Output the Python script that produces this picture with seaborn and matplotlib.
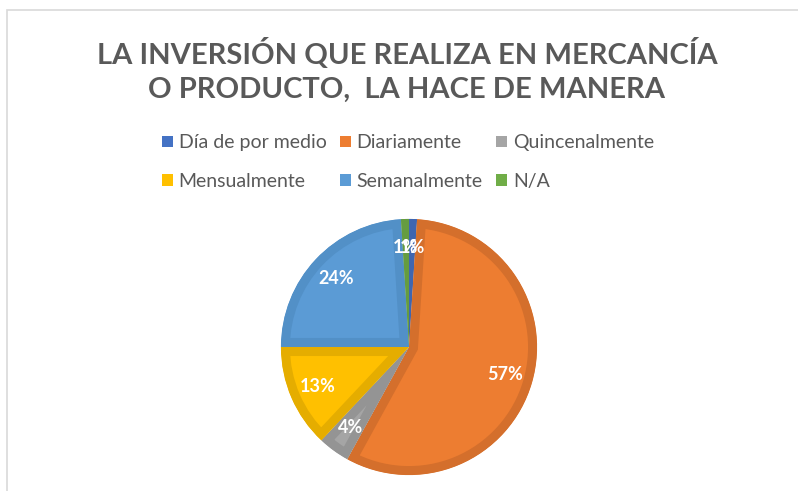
import matplotlib
matplotlib.use("Agg")
import matplotlib.pyplot as plt
from matplotlib.patches import Rectangle
import seaborn as sns

# datos
categorias = ["Día de por medio", "Diariamente", "Quincenalmente",
              "Mensualmente", "Semanalmente", "N/A"]
porcentajes = [1, 57, 4, 13, 24, 1]
colores = ["#4472C4", "#ED7D31", "#A5A5A5", "#FFC000", "#5B9BD5", "#70AD47"]
bordes = ["#3F66B0", "#D46F2C", "#949494", "#E5AD00", "#5290C7", "#659C40"]
titulo = "LA INVERSIÓN QUE REALIZA EN MERCANCÍA\nO PRODUCTO,  LA HACE DE MANERA"

sns.set_theme(style="white")
plt.rcParams["font.family"] = ["Lato", "DejaVu Sans"]

fig = plt.figure(figsize=(7.98, 4.91), dpi=100)

# marco gris del gráfico
fig.patches.append(Rectangle((7 / 798, -0.1), 1.2, 1 - 10 / 491 + 0.1,
                             transform=fig.transFigure, fill=False,
                             edgecolor="#D9D9D9", linewidth=1.2))

ax = fig.add_axes([(409 - 130) / 798, (491 - 347 - 130) / 491, 260 / 798, 260 / 491])
wedges, textos, pct = ax.pie(porcentajes, colors=colores, startangle=90,
                             counterclock=False, autopct="%1.0f%%",
                             pctdistance=0.78,
                             textprops=dict(color="white", fontsize=13,
                                            fontweight="bold"))
for w, b in zip(wedges, bordes):
    w.set_edgecolor(b)
    w.set_linewidth(13)
    w.set_clip_on(True)
    w.set_clip_path(w)
ax.set_xlim(-1.015, 1.015)
ax.set_ylim(-1.015, 1.015)
ax.set_aspect("equal")
ax.axis("off")

fig.text(407 / 798, 1 - 70 / 491, titulo, ha="center", va="center",
         fontsize=21, fontweight="bold", color="#595959", linespacing=1.38)

# leyenda en orden por filas
orden = [0, 3, 1, 4, 2, 5]
leg = fig.legend([wedges[i] for i in orden], [categorias[i] for i in orden],
                 ncol=3, loc="center", bbox_to_anchor=(408 / 798, 1 - 162 / 491),
                 frameon=False, fontsize=14, handlelength=0.55, handleheight=0.55,
                 handletextpad=0.3, columnspacing=0.7, labelspacing=1.1,
                 labelcolor="#595959")
for h, i in zip(leg.legend_handles, orden):
    h.set_facecolor(colores[i])
    h.set_edgecolor("none")
    h.set_linewidth(0)
    h.set_clip_path(None)

fig.savefig("out.png", dpi=100, facecolor="white")
